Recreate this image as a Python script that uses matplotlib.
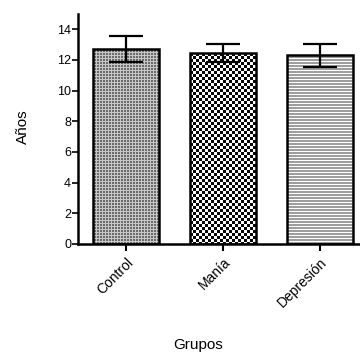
import numpy as np
import matplotlib.pyplot as plt

plt.rcParams['font.family'] = ['Liberation Sans', 'DejaVu Sans']

groups = ['Control', 'Manía', 'Depresión']
means = [12.7, 12.45, 12.3]
errors = [0.85, 0.6, 0.75]


def texture(kind, ny, nx):
    i, j = np.indices((ny, nx))
    if kind == 'dots':
        return np.where((i % 3 != 0) & (j % 3 != 0), 0.42, 0.78)
    if kind == 'checker':
        return np.where(((i // 3) + (j // 3)) % 2 == 0, 0.02, 1.0)
    return np.where(i % 3 == 0, 1.0, 0.62)


fig = plt.figure(figsize=(3.6, 3.54), dpi=100)
ax = fig.add_axes([0.2167, 0.311, 0.8056, 0.65])
x = np.arange(len(groups))
width = 0.68

bars = ax.bar(x, means, width, color='white', linewidth=0, zorder=1)
ax.set_xlim(-0.5, 2.5)
ax.set_ylim(0, 15)
fig.canvas.draw()
for b, kind, xi, m in zip(bars, ['dots', 'checker', 'lines'], x, means):
    bb = b.get_window_extent()
    img = texture(kind, int(round(bb.height)), int(round(bb.width)))
    im = ax.imshow(img, cmap='gray', vmin=0, vmax=1, interpolation='nearest', aspect='auto',
                   extent=[xi - width / 2, xi + width / 2, 0, m], zorder=1.5)
    im.set_clip_path(b)

# outlines
ax.bar(x, means, width, fill=False, edgecolor='black', linewidth=1.8, zorder=2)
ax.errorbar(x, means, yerr=errors, fmt='none', ecolor='black', elinewidth=1.6,
            capsize=12, capthick=1.6, zorder=3)

ax.set_xlim(-0.5, 2.5)
ax.set_ylim(0, 15)
ax.set_yticks(range(0, 15, 2))
ax.set_xticks(x)
ax.set_xticklabels(groups, rotation=45, ha='right', va='top', rotation_mode='anchor', fontsize=10)
ax.tick_params(axis='y', labelsize=9, width=1.2, length=4, pad=1)
ax.tick_params(axis='x', width=1.5, length=5, pad=3)
for s in ['top', 'right']:
    ax.spines[s].set_visible(False)
for s in ['left', 'bottom']:
    ax.spines[s].set_linewidth(1.8)

fig.text(23 / 360, 1 - 127 / 354, 'Años', fontsize=11, rotation=90, ha='center', va='center')
fig.text(198 / 360, 1 - 345 / 354, 'Grupos', fontsize=11, ha='center', va='center')

fig.savefig('out.png', dpi=100)
